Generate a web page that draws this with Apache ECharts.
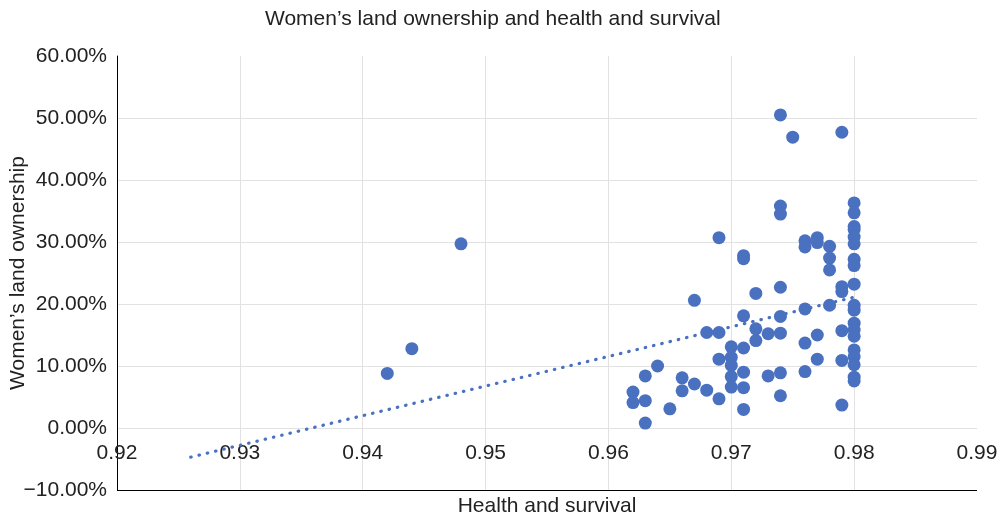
<!DOCTYPE html>
<html>
<head>
<meta charset="utf-8">
<title>Women’s land ownership and health and survival</title>
<script src="https://cdn.jsdelivr.net/npm/echarts@6/dist/echarts.min.js"></script>
<style>
  html, body { margin: 0; padding: 0; background: #fff; }
  #chart { width: 1007px; height: 523px; }
</style>
</head>
<body>
<div id="chart"></div>
<script>
// Health and survival index (x) for each country
const healthSurvival = [
  0.942, 0.944, 0.948,
  0.962, 0.962, 0.963, 0.963, 0.963, 0.964, 0.965, 0.966, 0.966,
  0.967, 0.967, 0.968, 0.968, 0.969, 0.969, 0.969, 0.969,
  0.970, 0.970, 0.970, 0.970, 0.970,
  0.971, 0.971, 0.971, 0.971, 0.971, 0.971, 0.971,
  0.972, 0.972, 0.972, 0.973, 0.973,
  0.974, 0.974, 0.974, 0.974, 0.974, 0.974, 0.974, 0.974,
  0.975,
  0.976, 0.976, 0.976, 0.976, 0.976,
  0.977, 0.977, 0.977, 0.977,
  0.978, 0.978, 0.978, 0.978,
  0.979, 0.979, 0.979, 0.979, 0.979, 0.979,
  0.980, 0.980, 0.980, 0.980, 0.980, 0.980, 0.980, 0.980, 0.980, 0.980,
  0.980, 0.980, 0.980, 0.980, 0.980, 0.980, 0.980, 0.980, 0.980
];

// Women's land ownership (percent) for the same countries
const landOwnership = [
  8.8, 12.8, 29.7,
  5.8, 4.1, 8.4, 4.4, 0.8, 10.0, 3.1, 8.1, 6.0,
  7.1, 20.6, 6.1, 15.4, 15.4, 11.1, 4.7, 30.7,
  13.1, 11.4, 10.1, 8.3, 6.6,
  18.1, 12.9, 9.0, 6.5, 3.0, 27.8, 27.3,
  21.7, 16.0, 14.1, 15.2, 8.4,
  50.5, 35.8, 34.5, 22.7, 18.0, 15.3, 8.9, 5.2,
  46.9,
  30.2, 29.2, 19.2, 13.7, 9.1,
  30.7, 29.9, 15.0, 11.1,
  29.3, 27.4, 25.5, 19.8,
  47.7, 22.8, 22.0, 15.7, 10.9, 3.7,
  36.3, 34.7, 32.5, 32.0, 30.8, 29.7, 27.2, 26.2, 23.2, 19.8,
  19.0, 16.9, 15.8, 14.8, 12.6, 11.5, 10.2, 8.2, 7.6
];

// Linear trend line end points (x, percent)
const trendX = [0.926, 0.980];
const trendY = [-4.7, 21.1];

// Axis ranges
const xTicks = { min: 0.92, max: 0.99, step: 0.01 };
const yTicks = { min: -10, max: 60, step: 10 };

const blue = '#4a70c0';
const textColor = '#222';
const fontFamily = '"Liberation Sans", Arial, Helvetica, sans-serif';
const fontSize = 21;

const gridBox = { left: 117, right: 30, top: 56, bottom: 33 };
const chartHeight = 523;
const plotHeight = chartHeight - gridBox.top - gridBox.bottom;
// distance from the plot bottom up to the 0% level, where the x labels sit
const zeroLift = plotHeight * (0 - yTicks.min) / (yTicks.max - yTicks.min);

const points = healthSurvival.map((x, i) => [x, landOwnership[i]]);
const trend = trendX.map((x, i) => [x, trendY[i]]);

const chart = echarts.init(document.getElementById('chart'), null, { renderer: 'canvas' });

chart.setOption({
  animation: false,
  backgroundColor: '#fff',
  textStyle: { fontFamily: fontFamily },
  title: {
    text: 'Women’s land ownership and health and survival',
    left: 260,
    top: 4,
    textStyle: { fontSize: fontSize, fontWeight: 'normal', color: textColor, fontFamily: fontFamily }
  },
  grid: Object.assign({ containLabel: false, outerBoundsMode: 'none' }, gridBox),
  xAxis: {
    type: 'value',
    min: xTicks.min, max: xTicks.max, interval: xTicks.step,
    offset: -zeroLift,
    axisLine: { show: false, onZero: false },
    axisTick: { show: false },
    axisLabel: {
      fontSize: fontSize, color: textColor, margin: 15, fontFamily: fontFamily,
      formatter: v => v.toFixed(2)
    },
    splitLine: { show: true, showMaxLine: false, lineStyle: { color: '#e2e2e2', width: 1 } },
    name: 'Health and survival',
    nameLocation: 'middle',
    nameGap: zeroLift + 6,
    nameMoveOverlap: false,
    nameTextStyle: { fontSize: fontSize, color: textColor, fontFamily: fontFamily, verticalAlign: 'top' }
  },
  yAxis: {
    type: 'value',
    min: yTicks.min, max: yTicks.max, interval: yTicks.step,
    axisLine: { show: true, onZero: false, lineStyle: { color: '#000', width: 1 } },
    axisTick: { show: false },
    axisLabel: {
      fontSize: fontSize, color: textColor, margin: 10, fontFamily: fontFamily,
      formatter: v => (v < 0 ? '\u2212' : '') + Math.abs(v).toFixed(2) + '%'
    },
    splitLine: { show: true, showMinLine: false, showMaxLine: false, lineStyle: { color: '#e2e2e2', width: 1 } },
    name: 'Women’s land ownership',
    nameLocation: 'middle',
    nameRotate: 90,
    nameGap: 88,
    nameMoveOverlap: false,
    nameTextStyle: { fontSize: fontSize, color: textColor, fontFamily: fontFamily }
  },
  series: [
    {
      type: 'scatter',
      data: points,
      symbol: 'circle',
      symbolSize: 13,
      itemStyle: { color: blue, opacity: 1 },
      z: 3,
      // solid border along the bottom of the plot (y axis minimum)
      markLine: {
        silent: true,
        symbol: 'none',
        animation: false,
        label: { show: false },
        lineStyle: { color: '#000', width: 1, type: 'solid' },
        data: [{ yAxis: yTicks.min }]
      }
    },
    {
      type: 'line',
      data: trend,
      symbol: 'none',
      silent: true,
      lineStyle: { color: blue, width: 3.2, type: [0.5, 8], cap: 'round' },
      z: 2
    }
  ]
});
</script>
</body>
</html>
